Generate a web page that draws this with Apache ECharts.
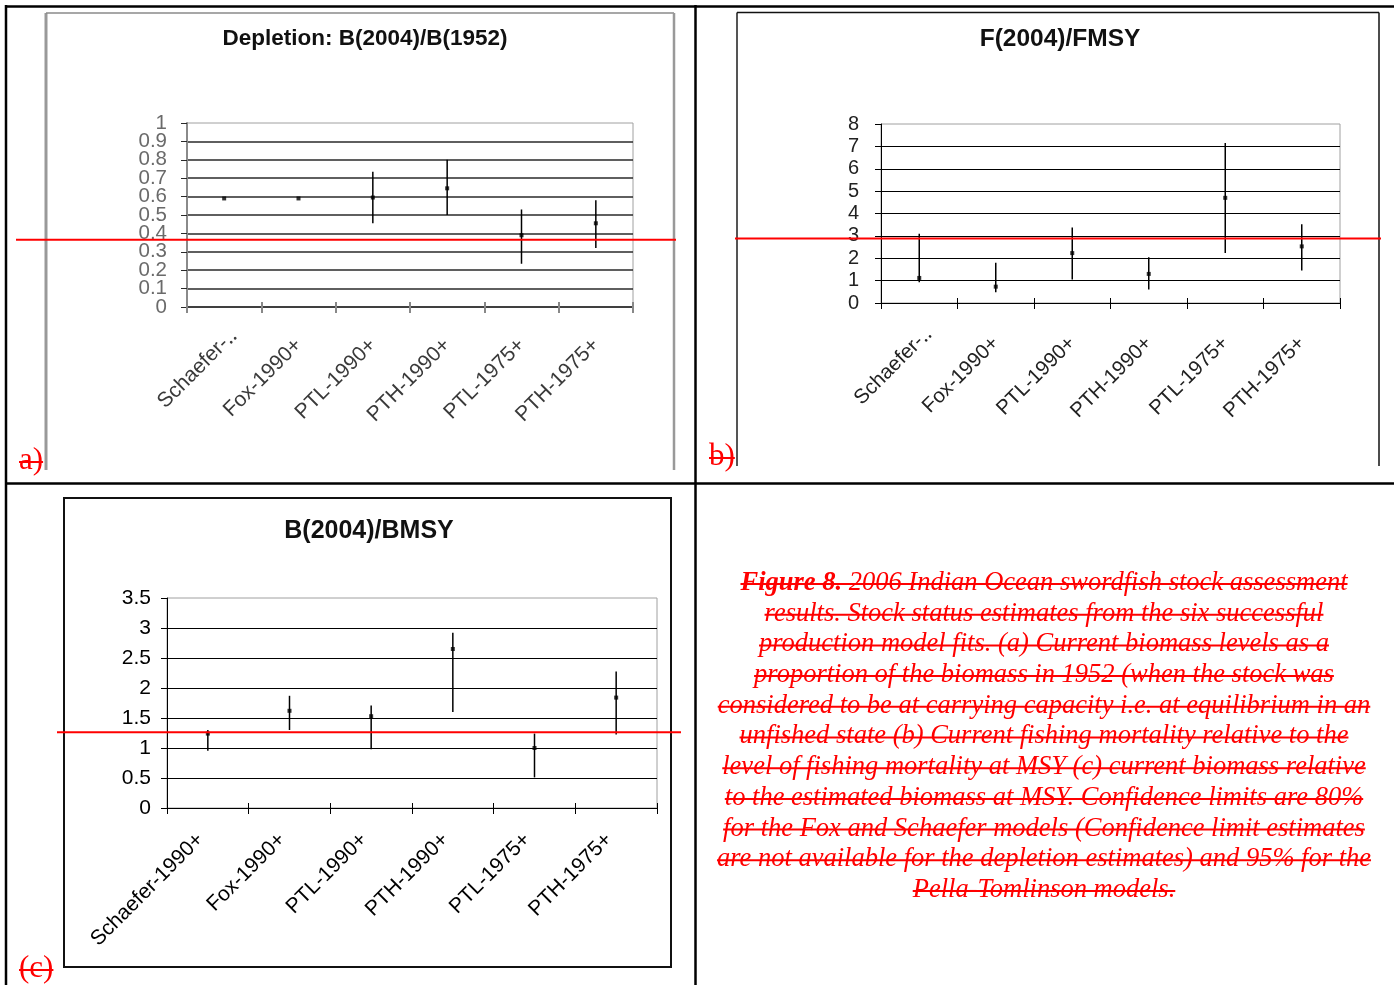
<!DOCTYPE html>
<html><head><meta charset="utf-8">
<script src="https://cdn.jsdelivr.net/npm/echarts@6/dist/echarts.min.js"></script>
<style>html,body{margin:0;padding:0;background:#fff}#c{width:1394px;height:985px}</style>
</head><body><div id="c"></div>
<script>
// ---------------- DATA ----------------
const catsAB = ['Schaefer-‥', 'Fox-1990+', 'PTL-1990+', 'PTH-1990+', 'PTL-1975+', 'PTH-1975+'];
const catsC  = ['Schaefer-1990+', 'Fox-1990+', 'PTL-1990+', 'PTH-1990+', 'PTL-1975+', 'PTH-1975+'];

const depletionVal  = [0.59, 0.59, 0.595, 0.645, 0.39, 0.455];
const depletionLow  = [null, null, 0.455, 0.50, 0.235, 0.32];
const depletionHigh = [null, null, 0.735, 0.80, 0.53, 0.58];

const fRatioVal  = [1.12, 0.73, 2.23, 1.30, 4.70, 2.53];
const fRatioLow  = [0.93, 0.48, 1.05, 0.60, 2.23, 1.45];
const fRatioHigh = [3.10, 1.80, 3.37, 2.05, 7.15, 3.52];

const bRatioVal  = [1.24, 1.62, 1.53, 2.65, 1.00, 1.84];
const bRatioLow  = [0.955, 1.30, 0.98, 1.60, 0.51, 1.225];
const bRatioHigh = [1.30, 1.87, 1.71, 2.92, 1.24, 2.275];

const refLineValues = [0.366, 2.88, 1.264];

const yTicksA = [0, 0.1, 0.2, 0.3, 0.4, 0.5, 0.6, 0.7, 0.8, 0.9, 1];
const yTicksB = [0, 1, 2, 3, 4, 5, 6, 7, 8];
const yTicksC = [0, 0.5, 1, 1.5, 2, 2.5, 3, 3.5];

const titles = ['Depletion: B(2004)/B(1952)', 'F(2004)/FMSY', 'B(2004)/BMSY'];
const panelTags = ['a)', 'b)', '(c)'];
const captionLines = [
  ['Figure 8.', ' 2006 Indian Ocean swordfish stock assessment'],
  ['', 'results. Stock status estimates from the six successful'],
  ['', 'production model fits. (a) Current biomass levels as a'],
  ['', 'proportion of the biomass in 1952 (when the stock was'],
  ['', 'considered to be at carrying capacity i.e. at equilibrium in an'],
  ['', 'unfished state (b) Current fishing mortality relative to the'],
  ['', 'level of fishing mortality at MSY (c) current biomass relative'],
  ['', 'to the estimated biomass at MSY. Confidence limits are 80%'],
  ['', 'for the Fox and Schaefer models (Confidence limit estimates'],
  ['', 'are not available for the depletion estimates) and 95% for the'],
  ['', 'Pella-Tomlinson models.']
];

// ---------------- LAYOUT / STYLE ----------------
const SANS = '"Liberation Sans", Arial, sans-serif';
const SERIF = '"Liberation Serif", "Times New Roman", serif';
const RED = '#ff0000';

const mctx = document.createElement('canvas').getContext('2d');
function measure(txt, font) { mctx.font = font; return mctx.measureText(txt).width; }

const panels = [
  { grid: {left: 187, top: 123, width: 446, height: 184}, cats: catsAB, ticks: yTicksA,
    val: depletionVal, low: depletionLow, high: depletionHigh,
    yLabel: {color: '#6a6a6a', fontSize: 20.5, margin: 20, viaSeries: true},
    xLabel: {color: '#3a3a3a', fontSize: 21, margin: 35, va: 'middle', firstShift: 13},
    axisY: {color: '#8a8a8a', width: 2}, axisX: {color: '#111', width: 1.5},
    tickX: {color: '#888', width: 2}, grid_: {color: '#2a2a2a', width: 1.5},
    refX: [16, 676] },
  { grid: {left: 881, top: 124, width: 459, height: 179}, cats: catsAB, ticks: yTicksB,
    val: fRatioVal, low: fRatioLow, high: fRatioHigh,
    yLabel: {color: '#222', fontSize: 20, margin: 22, viaSeries: false},
    xLabel: {color: '#222', fontSize: 20.5, margin: 37, va: 'middle', firstShift: 13},
    axisY: {color: '#000', width: 1}, axisX: {color: '#000', width: 1},
    tickX: {color: '#000', width: 1}, grid_: {color: '#000', width: 1},
    refX: [735, 1381] },
  { grid: {left: 167, top: 598, width: 490, height: 210}, cats: catsC, ticks: yTicksC,
    val: bRatioVal, low: bRatioLow, high: bRatioHigh,
    yLabel: {color: '#000', fontSize: 21, margin: 16, viaSeries: false},
    xLabel: {color: '#000', fontSize: 21, margin: 36, va: 'bottom', firstShift: 0},
    axisY: {color: '#000', width: 1}, axisX: {color: '#000', width: 1},
    tickX: {color: '#000', width: 1}, grid_: {color: '#000', width: 1},
    refX: [57, 681] }
];

const grid = [], xAxis = [], yAxis = [], series = [];
panels.forEach((p, i) => {
  grid.push(Object.assign({show: true, borderColor: '#a0a0a0', borderWidth: 1, containLabel: false}, p.grid));
  const xf = p.xLabel.fontSize + 'px ' + SANS;
  const firstW = measure(p.cats[0], xf) - p.xLabel.firstShift;
  xAxis.push({
    type: 'category', gridIndex: i, data: p.cats, boundaryGap: true,
    axisLine: {show: true, lineStyle: p.axisX},
    axisTick: {show: true, interval: 0, length: 6, lineStyle: p.tickX},
    axisLabel: {rotate: 45, interval: 0, color: p.xLabel.color, fontSize: p.xLabel.fontSize,
      fontFamily: SANS, margin: p.xLabel.margin, verticalAlign: p.xLabel.va, hideOverlap: false,
      formatter: (v, idx) => (idx === 0 && p.xLabel.firstShift) ? '{s|' + v + '}' : v,
      rich: {s: {width: firstW, align: 'left', fontSize: p.xLabel.fontSize, fontFamily: SANS,
        color: p.xLabel.color}}},
    splitLine: {show: false}
  });
  yAxis.push({
    type: 'value', gridIndex: i,
    min: p.ticks[0], max: p.ticks[p.ticks.length - 1], interval: p.ticks[1] - p.ticks[0],
    axisLine: {show: true, lineStyle: p.axisY},
    axisTick: {show: true, length: 6, lineStyle: {color: p.grid_.color, width: 1}},
    axisLabel: {show: !p.yLabel.viaSeries, margin: p.yLabel.margin, color: p.yLabel.color,
      fontSize: p.yLabel.fontSize, fontFamily: SANS, showMinLabel: true, showMaxLabel: true},
    splitLine: {show: true, showMaxLine: false, showMinLine: false, lineStyle: p.grid_}
  });
});
// secondary axes: upward half of the "cross" tick marks on the category axes
panels.forEach((p, i) => {
  xAxis.push({
    type: 'category', gridIndex: i, data: p.cats, position: 'top', offset: -p.grid.height,
    axisLine: {show: false}, axisTick: {show: true, interval: 0, length: 5, lineStyle: p.tickX},
    axisLabel: {show: false, interval: 0}, splitLine: {show: false}
  });
});

panels.forEach((p, i) => {
  const barData = [];
  p.val.forEach((v, k) => { if (p.low[k] != null) barData.push([k, p.low[k], p.high[k]]); });
  series.push({
    type: 'custom', xAxisIndex: i, yAxisIndex: i, data: barData, z: 5,
    encode: {x: 0, y: [1, 2]},
    renderItem: (params, api) => {
      const a = api.coord([api.value(0), api.value(1)]);
      const b = api.coord([api.value(0), api.value(2)]);
      return {type: 'line', shape: {x1: a[0], y1: a[1], x2: b[0], y2: b[1]},
        style: {stroke: '#000', lineWidth: 1.5}};
    }
  });
  series.push({
    type: 'scatter', xAxisIndex: i, yAxisIndex: i, data: p.val, z: 6,
    symbol: 'rect', symbolSize: 4, itemStyle: {color: '#000'}, silent: true
  });
  series.push({
    type: 'custom', xAxisIndex: i, yAxisIndex: i, data: [[0, refLineValues[i]]], z: 10, clip: false,
    encode: {x: 0, y: 1},
    renderItem: (params, api) => {
      const y = api.coord([0, api.value(1)])[1];
      return {type: 'line', shape: {x1: p.refX[0], y1: y, x2: p.refX[1], y2: y},
        style: {stroke: RED, lineWidth: 2}};
    }
  });
  if (p.yLabel.viaSeries) {
    // dense tick labels (the axis would hide some of them), placed through the value scale
    series.push({
      type: 'custom', xAxisIndex: i, yAxisIndex: i, data: p.ticks.map(t => [0, t]), z: 4, clip: false,
      encode: {x: 0, y: 1}, silent: true,
      renderItem: (params, api) => {
        const y = api.coord([0, api.value(1)])[1];
        return {type: 'text', x: params.coordSys.x - p.yLabel.margin, y: y,
          style: {text: String(api.value(1)), fill: p.yLabel.color,
            font: p.yLabel.fontSize + 'px ' + SANS, align: 'right', verticalAlign: 'middle'}};
      }
    });
  }
});

// ---------------- GRAPHICS: table, frames, titles, caption ----------------
const g = [];
function line(x1, y1, x2, y2, stroke, w, z) {
  g.push({type: 'line', shape: {x1, y1, x2, y2}, style: {stroke, lineWidth: w}, z: z || 1, silent: true});
}
// table lines
line(5, 6.5, 1394, 6.5, '#000', 2.5);
line(6, 5, 6, 985, '#000', 2.5);
line(695.5, 5, 695.5, 985, '#000', 2.5);
line(5, 483.5, 1394, 483.5, '#000', 2.5);
// frame a
line(46, 13, 46, 470, '#999', 3);
line(46, 13, 674, 13, '#8a8a8a', 1.5);
line(674, 13, 674, 470, '#999', 2.5);
// frame b
line(737, 12.5, 737, 466, '#555', 2);
line(737, 12.5, 1379, 12.5, '#111', 1.5);
line(1379, 12.5, 1379, 466, '#111', 1.5);
// frame c
g.push({type: 'rect', shape: {x: 64, y: 498, width: 607, height: 469},
  style: {fill: 'none', stroke: '#111', lineWidth: 2}, z: 1, silent: true});

// titles
const titlePos = [[365, 39, 22.5], [1060, 39, 24.5], [369, 531, 25]];
titles.forEach((t, i) => {
  g.push({type: 'text', x: titlePos[i][0], y: titlePos[i][1], z: 3, silent: true,
    style: {text: t, fill: '#111', font: 'bold ' + titlePos[i][2] + 'px ' + SANS,
      align: 'center', verticalAlign: 'middle'}});
});

// panel tags
const tagPos = [[19, 461, 31], [709, 457, 31], [19, 969, 31]];
panelTags.forEach((t, i) => {
  const f = tagPos[i][2] + 'px ' + SERIF;
  const w = measure(t, f);
  g.push({type: 'text', x: tagPos[i][0], y: tagPos[i][1], z: 3, silent: true,
    style: {text: t, fill: RED, font: f, align: 'left', verticalAlign: 'middle'}});
  line(tagPos[i][0], tagPos[i][1] + 1, tagPos[i][0] + w, tagPos[i][1] + 1, RED, 2, 4);
});

// caption
const capCX = 1044, capY0 = 583, capDY = 30.7, capSize = 26.5;
captionLines.forEach((parts, k) => {
  const fb = 'italic bold ' + capSize + 'px ' + SERIF;
  const fi = 'italic ' + capSize + 'px ' + SERIF;
  const w1 = parts[0] ? measure(parts[0], fb) : 0;
  const w2 = measure(parts[1], fi);
  const x0 = capCX - (w1 + w2) / 2;
  const y = capY0 + k * capDY;
  if (parts[0]) {
    g.push({type: 'text', x: x0, y: y, z: 3, silent: true,
      style: {text: parts[0], fill: RED, font: fb, align: 'left', verticalAlign: 'middle'}});
  }
  g.push({type: 'text', x: x0 + w1, y: y, z: 3, silent: true,
    style: {text: parts[1], fill: RED, font: fi, align: 'left', verticalAlign: 'middle'}});
  line(x0, y + 1, x0 + w1 + w2, y + 1, RED, 2, 4);
});

const chart = echarts.init(document.getElementById('c'), null, {renderer: 'canvas'});
chart.setOption({
  animation: false,
  backgroundColor: '#fff',
  grid, xAxis, yAxis, series,
  graphic: {elements: g}
});
</script></body></html>
